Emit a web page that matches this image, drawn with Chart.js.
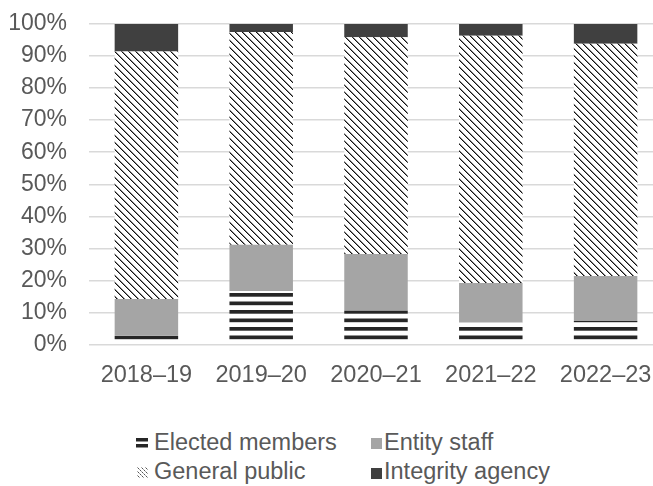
<!DOCTYPE html>
<html><head><meta charset="utf-8">
<script src="https://cdn.jsdelivr.net/npm/chart.js@4.4.0/dist/chart.umd.min.js"></script>
<style>
html,body{margin:0;padding:0;background:#fff;overflow:hidden;width:653px;height:486px;}
#wrap{position:absolute;left:0;top:0;width:670px;height:410px;}
.leg{position:absolute;font-family:"Liberation Sans",Arial,sans-serif;font-size:23.5px;color:#595959;line-height:22px;white-space:nowrap;}
.sw{position:absolute;display:block;}
</style></head><body>
<div id="wrap"><canvas id="c"></canvas></div>
<canvas class="sw" id="swE" width="12" height="11" style="left:136px;top:437px"></canvas>
<div class="leg" style="left:154px;top:431px">Elected members</div>
<div class="sw" style="left:371px;top:438px;width:11px;height:11px;background:#a5a5a5"></div>
<div class="leg" style="left:384px;top:431px">Entity staff</div>
<canvas class="sw" id="swG" width="11" height="11" style="left:137px;top:467px"></canvas>
<div class="leg" style="left:154px;top:460px">General public</div>
<div class="sw" style="left:371px;top:468px;width:11px;height:11px;background:#404040"></div>
<div class="leg" style="left:384px;top:460px">Integrity agency</div>
<script>
const categories = ['2018–19','2019–20','2020–21','2021–22','2022–23'];
const electedMembers = [2.7, 16.7, 10.5, 6.9, 7.3];
const entityStaff = [11.5, 14.4, 17.7, 12.3, 14.1];
const generalPublic = [77.2, 66.4, 67.7, 77.1, 72.4];
const integrityAgency = [8.6, 2.5, 4.1, 3.7, 6.2];
const yTickValues = [0,10,20,30,40,50,60,70,80,90,100];

function stripePattern(ctx){
  const c=document.createElement('canvas'); c.width=8; c.height=17;
  const x=c.getContext('2d'); x.fillStyle='#fff'; x.fillRect(0,0,8,17);
  x.fillStyle='#262626'; x.fillRect(0,4,8,3.7); x.fillRect(0,12.5,8,3.7);
  return ctx.createPattern(c,'repeat');
}
function diagPattern(ctx){
  const n=7;
  const c=document.createElement('canvas'); c.width=n; c.height=n;
  const x=c.getContext('2d'); x.fillStyle='#fff'; x.fillRect(0,0,n,n);
  for(let y=0;y<n;y++){
    x.fillStyle='#111'; x.fillRect(y,y,1,1);
    x.fillStyle='#8a8a8a'; x.fillRect((y+1)%n,y,1,1);
  }
  return ctx.createPattern(c,'repeat');
}
// legend swatches
(function(){
  const e=document.getElementById('swE').getContext('2d');
  e.fillStyle='#262626'; e.fillRect(0,1,12,3.5); e.fillRect(0,7,12,3.5);
  const g=document.getElementById('swG').getContext('2d');
  g.fillStyle='#fff'; g.fillRect(0,0,11,11);
  for(let k=-8;k<11;k+=4){
    for(let i=0;i<11;i++){
      const xx=i+k; if(xx<0||xx>10) continue;
      g.fillStyle=(i%2)?'#555':'#aaa'; g.fillRect(xx,i,1,1);
    }
  }
})();

const ctx=document.getElementById('c').getContext('2d');
Chart.defaults.font.family='"Liberation Sans", Arial, sans-serif';
Chart.defaults.color='#595959';
new Chart(ctx,{
  type:'bar',
  data:{
    labels:categories,
    datasets:[
      {label:'Elected members',data:electedMembers,backgroundColor:stripePattern(ctx),borderWidth:0},
      {label:'Entity staff',data:entityStaff,backgroundColor:'#a5a5a5',borderWidth:0},
      {label:'General public',data:generalPublic,backgroundColor:diagPattern(ctx),borderWidth:0},
      {label:'Integrity agency',data:integrityAgency,backgroundColor:'#404040',borderWidth:0}
    ]
  },
  options:{
    responsive:true, maintainAspectRatio:false, animation:false,
    layout:{padding:{left:0,right:7,top:24,bottom:0}},
    datasets:{bar:{categoryPercentage:0.553,barPercentage:1}},
    plugins:{legend:{display:false},tooltip:{enabled:false}},
    scales:{
      x:{stacked:true,
         grid:{display:false,drawTicks:false},border:{display:false},
         ticks:{padding:17,font:{size:23.5},color:'#595959'},
         afterFit:s=>{s.height=65.5;}},
      y:{stacked:true,min:0,max:100,
         afterBuildTicks:s=>{s.ticks=yTickValues.map(v=>({value:v}));},
         grid:{color:'#d9d9d9',lineWidth:1.5,drawTicks:false},border:{display:false},
         ticks:{padding:22,font:{size:23},color:'#595959',callback:v=>v+'%'},
         afterFit:s=>{s.width=89;s.paddingTop=0;s.paddingBottom=0;}}
    }
  }
});
</script>
</body></html>
